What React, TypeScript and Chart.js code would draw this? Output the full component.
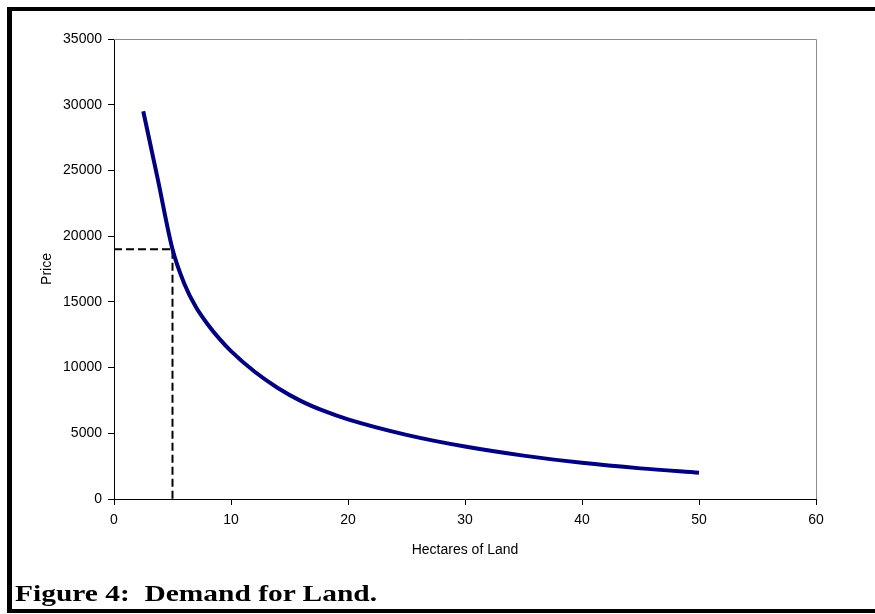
import React, { useEffect, useRef } from "react";
import { Chart, registerables } from "chart.js";

Chart.register(...registerables);

// Demand curve (hectares of land vs price)
const hectares = [2.5, 3.75, 5, 6, 7, 8, 9, 10, 12, 14, 16, 18, 20, 25, 30, 35, 40, 45, 50];
const prices = [29500, 24300, 19000, 16400, 14600, 13300, 12200, 11250, 9700, 8450, 7450, 6680, 6060, 4880, 3990, 3300, 2750, 2330, 2000];

// Dashed reference lines at 5 hectares
const refX = [0, 5, 5];
const refY = [19000, 19000, 0];

const xTicks = [0, 10, 20, 30, 40, 50, 60];
const yTicks = [0, 5000, 10000, 15000, 20000, 25000, 30000, 35000];

const xTitle = "Hectares of Land";
const yTitle = "Price";
const caption = "Figure 4:  Demand for Land.";

const plotFrame = {
  id: "plotFrame",
  afterDatasetsDraw(chart: any) {
    const { ctx, chartArea } = chart;
    const { left, top, right, bottom } = chartArea;
    ctx.save();
    ctx.strokeStyle = "#8c8c8c";
    ctx.lineWidth = 1;
    ctx.beginPath();
    ctx.moveTo(Math.round(left), Math.round(top) + 0.5);
    ctx.lineTo(Math.round(right) + 0.5, Math.round(top) + 0.5);
    ctx.lineTo(Math.round(right) + 0.5, Math.round(bottom));
    ctx.stroke();
    ctx.restore();
  },
};

export default function App() {
  const ref = useRef<HTMLCanvasElement | null>(null);

  useEffect(() => {
    if (!ref.current) return;
    Chart.defaults.font.family = "'Liberation Sans', Arial, sans-serif";
    Chart.defaults.color = "#000";
    const chart = new Chart(ref.current, {
      type: "scatter",
      data: {
        datasets: [
          {
            data: hectares.map((x, i) => ({ x, y: prices[i] })),
            showLine: true,
            borderColor: "#000080",
            backgroundColor: "#000080",
            borderWidth: 4,
            pointRadius: 0,
            cubicInterpolationMode: "monotone",
            borderCapStyle: "butt",
          },
          {
            data: refX.map((x, i) => ({ x, y: refY[i] })),
            showLine: true,
            borderColor: "#000",
            borderWidth: 2,
            borderDash: [8, 4],
            pointRadius: 0,
            tension: 0,
          },
        ],
      },
      options: {
        responsive: false,
        animation: false,
        events: [],
        layout: { padding: { left: 14, top: 39, right: 59, bottom: 55 } },
        plugins: {
          legend: { display: false },
          tooltip: { enabled: false },
        },
        scales: {
          x: {
            type: "linear",
            min: 0,
            max: 60,
            afterBuildTicks: (s: any) => {
              s.ticks = xTicks.map((v) => ({ value: v }));
            },
            afterFit: (s: any) => {
              s.height = 60;
            },
            ticks: {
              font: { size: 14 },
              color: "#000",
              padding: 7,
              maxRotation: 0,
              callback: (v: any) => String(v),
            },
            grid: {
              drawOnChartArea: false,
              drawTicks: true,
              tickLength: 6,
              tickColor: "#000",
            },
            border: { display: true, color: "#000", width: 1 },
            title: {
              display: true,
              text: xTitle,
              font: { size: 14 },
              color: "#000",
              padding: { top: 0, bottom: 0 },
            },
          },
          y: {
            type: "linear",
            min: 0,
            max: 35000,
            afterBuildTicks: (s: any) => {
              s.ticks = yTicks.map((v) => ({ value: v }));
            },
            afterFit: (s: any) => {
              s.width = 100;
            },
            ticks: {
              font: { size: 14 },
              color: "#000",
              padding: 6,
              callback: (v: any) => String(v),
            },
            grid: {
              drawOnChartArea: false,
              drawTicks: true,
              tickLength: 6,
              tickColor: "#000",
            },
            border: { display: true, color: "#000", width: 1 },
            title: {
              display: true,
              text: yTitle,
              font: { size: 14 },
              color: "#000",
              padding: { top: 25, bottom: 0 },
            },
          },
        },
      },
      plugins: [plotFrame],
    });
    return () => chart.destroy();
  }, []);

  return (
    <div
      style={{
        position: "fixed",
        left: 0,
        top: 0,
        width: 875,
        height: 614,
        overflow: "hidden",
        background: "#fff",
      }}
    >
      <div
        style={{
          position: "absolute",
          left: 7,
          top: 7,
          width: 900,
          height: 606,
          boxSizing: "border-box",
          borderLeft: "5px solid #000",
          borderTop: "4px solid #000",
          borderBottom: "4px solid #000",
        }}
      />
      <canvas
        ref={ref}
        width={875}
        height={614}
        style={{ position: "absolute", left: 0, top: 0, width: 875, height: 614 }}
      />
      <div
        style={{
          position: "absolute",
          left: 15,
          top: 582,
          fontFamily: "'Liberation Serif', 'Times New Roman', serif",
          fontWeight: "bold",
          fontSize: 23,
          lineHeight: "23px",
          whiteSpace: "pre",
          transform: "scaleX(1.28)",
          transformOrigin: "left top",
          color: "#000",
        }}
      >
        {caption}
      </div>
    </div>
  );
}
